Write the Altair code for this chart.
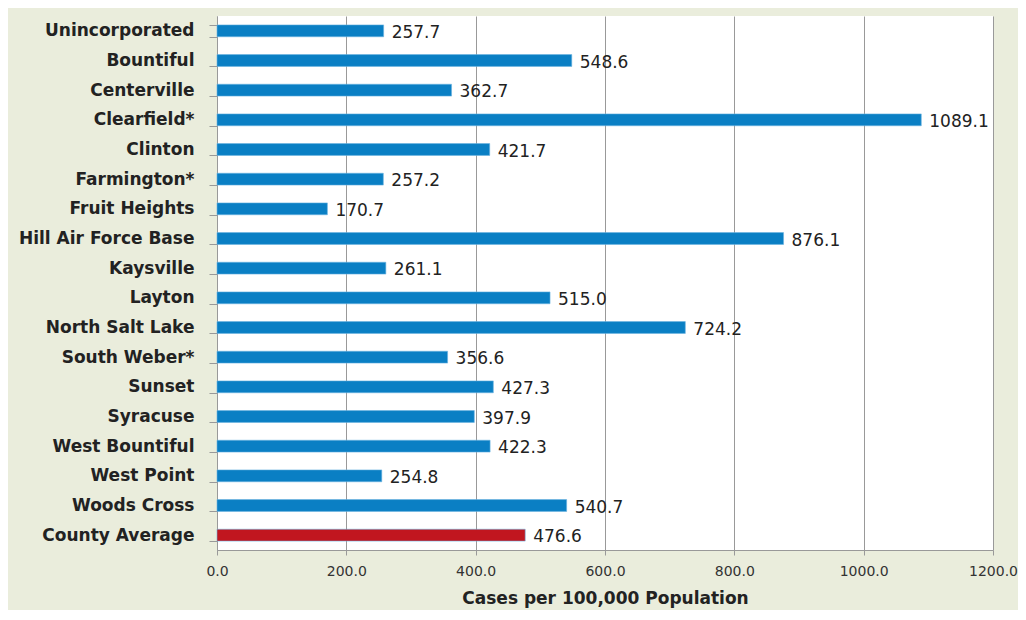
import altair as alt
import pandas as pd

places = ["Unincorporated", "Bountiful", "Centerville", "Clearfield*", "Clinton",
          "Farmington*", "Fruit Heights", "Hill Air Force Base", "Kaysville", "Layton",
          "North Salt Lake", "South Weber*", "Sunset", "Syracuse", "West Bountiful",
          "West Point", "Woods Cross", "County Average"]
rates = [257.7, 548.6, 362.7, 1089.1, 421.7, 257.2, 170.7, 876.1, 261.1, 515.0,
         724.2, 356.6, 427.3, 397.9, 422.3, 254.8, 540.7, 476.6]
kind = ["city"] * 17 + ["avg"]

df = pd.DataFrame({"place": places, "rate": rates, "kind": kind})

FONT = "DejaVu Sans"

y = alt.Y("place:N", sort=places, title=None,
          scale=alt.Scale(paddingInner=0.6, paddingOuter=0.3),
          axis=alt.Axis(tickBand="extent", labelFont=FONT, labelFontWeight="bold",
                        labelFontSize=17, labelColor="#222222", labelPadding=15,
                        tickSize=8, tickColor="#999999", domainColor="#999999",
                        labelLimit=300))
x = alt.X("rate:Q", title="Cases per 100,000 Population",
          scale=alt.Scale(domain=[0, 1200], nice=False),
          axis=alt.Axis(values=[0, 200, 400, 600, 800, 1000, 1200], format=".1f",
                        labelFlush=False,
                        labelFont=FONT, labelFontSize=14, labelColor="#333333",
                        labelPadding=9, tickSize=5, tickColor="#999999",
                        domainColor="#999999", gridColor="#999999", grid=True,
                        titleFont=FONT, titleFontSize=17, titleFontWeight="bold",
                        titleColor="#222222", titlePadding=12))

bars = alt.Chart(df).mark_bar(stroke="#6db3e0", strokeWidth=0.6).encode(
    x=x, y=y,
    color=alt.Color("kind:N", scale=alt.Scale(domain=["city", "avg"],
                                              range=["#0a7fc4", "#c1161f"]), legend=None),
)
labels = alt.Chart(df).mark_text(align="left", baseline="middle", dx=8, dy=2,
                                 font=FONT, fontSize=17, color="#222222").encode(
    x="rate:Q", y=alt.Y("place:N", sort=places),
    text=alt.Text("rate:Q", format=".1f"),
)

chart = (bars + labels).properties(
    width=776, height=534,
    background="#eaeddc",
    padding={"left": 209, "top": 8, "right": 25, "bottom": 60},
    autosize=alt.AutoSizeParams(type="none"),
).configure_view(fill="white", stroke=None)

chart.save("out.html", embed_options={"renderer": "svg", "actions": False})
